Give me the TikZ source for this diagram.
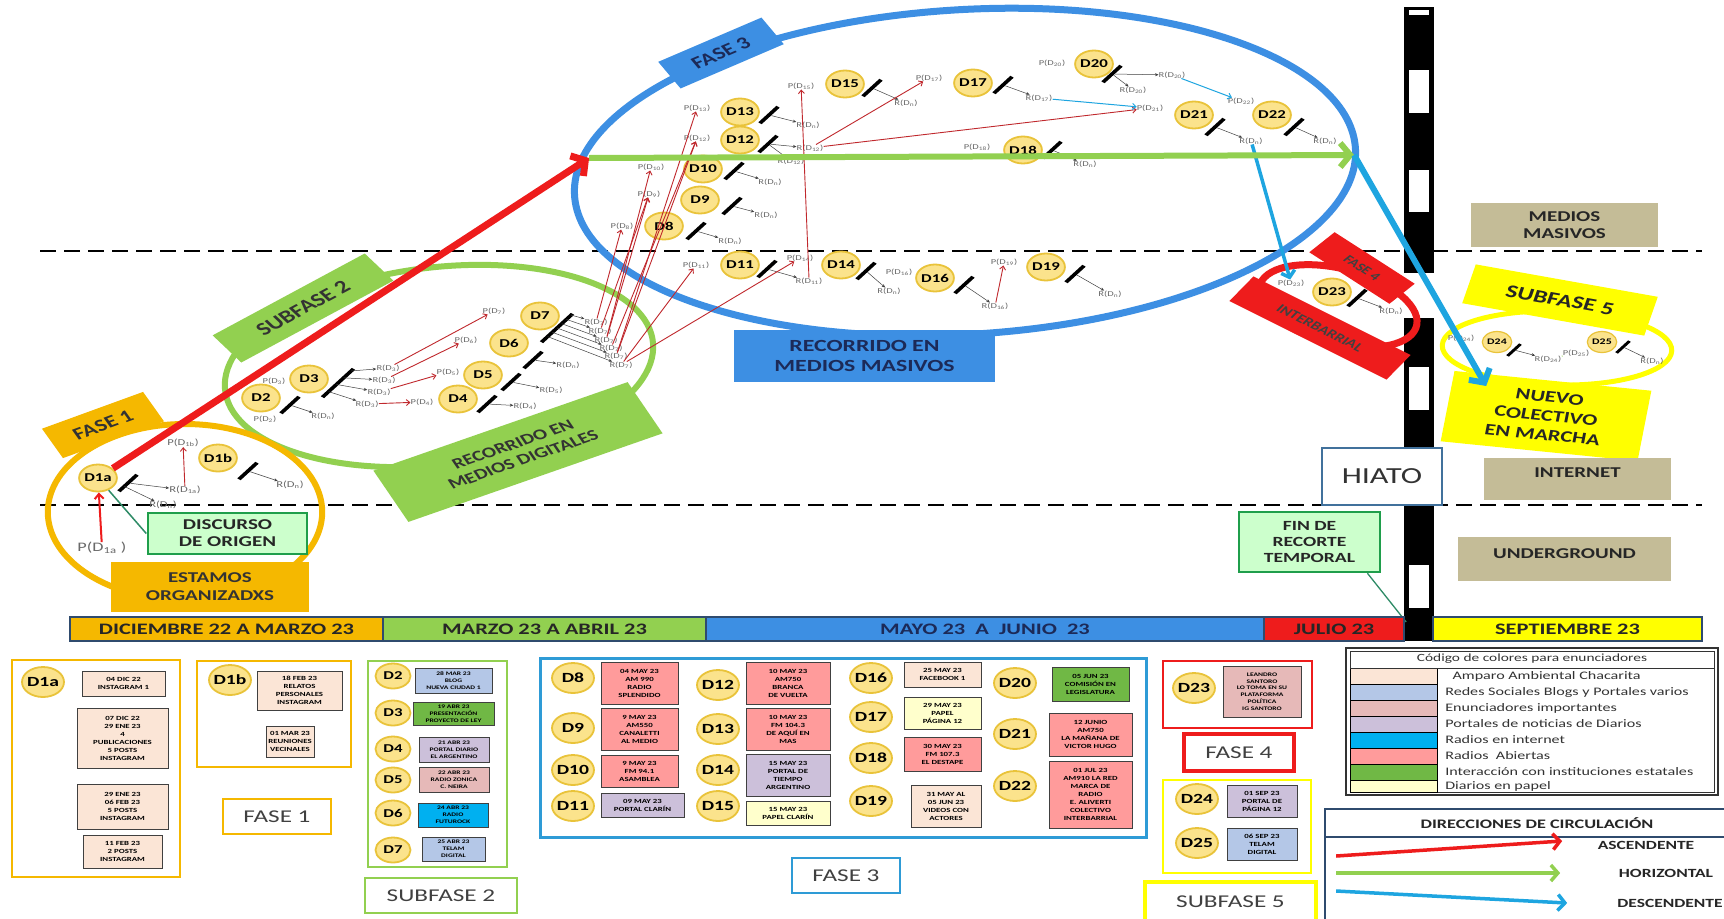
\documentclass[tikz,border=0pt]{standalone}
\usepackage{fontspec}
\setmainfont{Carlito}
\usetikzlibrary{arrows.meta,calc}
\definecolor{corange}{HTML}{F5B800}
\definecolor{cgreen}{HTML}{92D050}
\definecolor{cblue}{HTML}{3D8FE3}
\definecolor{cblue2}{HTML}{2E9BD6}
\definecolor{cred}{HTML}{EE1C1C}
\definecolor{cthin}{HTML}{C0282D}
\definecolor{ccyan}{HTML}{1EA5E0}
\definecolor{ctan}{HTML}{C4BC97}
\definecolor{cnavy}{HTML}{1C2A58}
\definecolor{cdfill}{HTML}{FBE38C}
\definecolor{cdring}{HTML}{E9C33A}
\definecolor{cmint}{HTML}{CCFFCC}
\definecolor{cmintdraw}{HTML}{1F9E4B}
\definecolor{cteal}{HTML}{2E8B66}
\definecolor{csteel}{HTML}{41719C}
\definecolor{cframe}{HTML}{2F4B6E}
\definecolor{cyell}{HTML}{FFFF00}
\definecolor{cgraytxt}{HTML}{6A6A6A}
\definecolor{cpeach}{HTML}{FBE5D6}
\definecolor{cblog}{HTML}{B4C7E7}
\definecolor{cimp}{HTML}{E6B9B8}
\definecolor{cportal}{HTML}{CCC0DA}
\definecolor{cradint}{HTML}{00B0F0}
\definecolor{crad}{HTML}{FF9B9B}
\definecolor{cinst}{HTML}{70B845}
\definecolor{cpaper}{HTML}{FFFFCC}
\newcommand{\fsz}[2]{\fontsize{#1}{#2}\selectfont}
\newcommand{\rbox}[6][]{\node[#1,minimum width={(#5-#3)*1pt/1.4},minimum height={(#6-#4)*1pt}] (#2) at ({(#3+#5)/2},{(#4+#6)/2})}
\tikzset{dnode/.style={circle,draw=cdring,fill=cdfill,line width=1.8pt,inner sep=0pt,minimum size=27pt,font=\bfseries\fsz{12}{12}}}
\tikzset{dbig/.style={dnode,minimum size=30pt,font=\bfseries\fsz{14}{14}}}
\tikzset{dmid/.style={dnode,minimum size=25pt,font=\bfseries\fsz{12}{12}}}
\tikzset{dsmall/.style={dnode,minimum size=21pt,line width=1.2pt,font=\bfseries\fsz{8.5}{9}}}
\tikzset{plab/.style={text=cgraytxt,inner sep=0pt,font=\fsz{7.5}{7.5}}}
\tikzset{ebar/.style={fill=black,inner sep=0pt,minimum width=3pt,minimum height=21pt,rotate=-38}}
\tikzset{barr/.style={-{Stealth[length=3.5pt,width=3pt]},black!75,line width=0.5pt}}
\tikzset{rarr/.style={-{Straight Barb[length=3.5pt,width=6pt]},cthin,line width=0.9pt}}
\tikzset{carr/.style={-{Straight Barb[length=3.5pt,width=6pt]},ccyan,line width=1pt}}
\tikzset{bigarr/.style={-{Straight Barb[length=10pt,width=24pt]},line width=6pt}}
\tikzset{ring/.style={line width=6pt}}
\tikzset{etab/.style={inner sep=0pt,align=center,font=\bfseries\fsz{16}{17}}}
\tikzset{ebox/.style={draw=black!75,line width=1pt,inner sep=0pt,align=center,font=\bfseries\fsz{6.3}{8}}}
\tikzset{sbox/.style={ebox,font=\bfseries\fsz{5.4}{6.8}}}
\tikzset{phaselab/.style={fill=white,line width=2.5pt,inner sep=0pt,font=\fsz{18}{18},text=black!75}}
\tikzset{catbox/.style={fill=ctan,inner sep=0pt,align=center,font=\bfseries\fsz{15}{17},text=black!85}}
\tikzset{tline/.style={draw=cframe,line width=1.6pt,inner sep=0pt,font=\bfseries\fsz{16}{16}}}
\tikzset{legtxt/.style={anchor=west,inner sep=0pt,font=\fsz{11.5}{11.5},text=black!80}}
\tikzset{dirtxt/.style={inner sep=0pt,font=\bfseries\fsz{12.5}{13},text=black!85}}
\begin{document}
\begin{tikzpicture}[x=0.714286pt,y=-1pt,xscale=1.4,every node/.append style={transform shape}]
\fill[white] (0,0) rectangle (1724,918);
\useasboundingbox (0,0) rectangle (1724,918);

% levels and hiato strip
\foreach \yy in {251,505}
  \draw[dash pattern=on 16pt off 8pt,line width=2pt] (40,\yy) -- (1702,\yy);
\fill (1404,7) rectangle (1434,273);
\fill (1404,318) rectangle (1434,641);
\foreach \ya/\yb in {10/15,70/113,170/212,367/410,565/608}
  \fill[white] (1409,\ya) rectangle (1429,\yb);

% phases
\draw[ring,cblue,line width=7pt,rotate around={6:(965,172)}] (965,172) ellipse [x radius=280pt,y radius=162pt];
\draw[ring,cgreen,rotate around={12:(439,366)}] (439,366) ellipse [x radius=155pt,y radius=98pt];
\draw[ring,corange] (185,512) ellipse [x radius=98pt,y radius=88pt];
\draw[ring,cred,line width=7pt,rotate around={-25:(1338,306)}] (1338,306) ellipse [x radius=60pt,y radius=36pt];
\draw[ring,cyell,line width=5pt,rotate around={-2:(1557,348)}] (1557,348) ellipse [x radius=82pt,y radius=37pt];

\node[etab,fill=corange,text=black!80,rotate=27,minimum width=81pt,minimum height=33pt,font=\bfseries\fsz{17}{17}] (f1tab) at (103,425) {FASE 1};
\node[etab,fill=cgreen,text=black!80,rotate=37,minimum width=136pt,minimum height=34pt,font=\bfseries\fsz{18}{18}] (s2tab) at (303,308) {SUBFASE 2};
\node[etab,fill=cblue,text=cnavy,rotate=31,minimum width=86pt,minimum height=31pt,font=\bfseries\fsz{17}{17}] (f3tab) at (721,53) {FASE 3};
\node[etab,fill=cgreen,text=black!80,rotate=26,minimum width=202pt,minimum height=57pt,font=\bfseries\fsz{15}{17}] (mdtab) at (518,452) {RECORRIDO EN\\MEDIOS DIGITALES};
\node[etab,fill=cred,text=black!75,rotate=-42,minimum width=77pt,minimum height=27pt,font=\bfseries\fsz{11.5}{12}] (f4tab) at (1362,268) {FASE 4};
\node[etab,fill=cred,text=black!75,rotate=-35,minimum width=137pt,minimum height=30pt,font=\bfseries\fsz{12}{12}] (ibtab) at (1320,328) {INTERBARRIAL};
\node[etab,fill=cyell,text=black!85,rotate=-14,minimum width=134pt,minimum height=40pt,font=\bfseries\fsz{18}{18}] (s5tab) at (1560,300) {SUBFASE 5};
\node[etab,fill=cyell,text=black!85,rotate=-8,minimum width=142pt,minimum height=71pt,font=\bfseries\fsz{16}{19}] (nuevo) at (1546,416) {NUEVO\\COLECTIVO\\EN MARCHA};

\rbox[fill=cblue,inner sep=0pt,align=center,font=\bfseries\fsz{17}{20},text=cnavy]{mmasivo}{734}{330}{995}{382} {RECORRIDO EN\\MEDIOS MASIVOS};
\rbox[fill=corange,inner sep=0pt,align=center,font=\bfseries\fsz{15}{18},text=black!80]{estamos}{111}{562}{309}{612} {ESTAMOS\\ORGANIZADXS};
\rbox[fill=cmint,draw=cmintdraw,line width=2.5pt,inner sep=0pt,align=center,font=\bfseries\fsz{15}{17},text=black!85]{disc}{148}{513}{307}{554} {DISCURSO\\DE ORIGEN};
\rbox[catbox]{mmas}{1471}{203}{1658}{247} {MEDIOS\\MASIVOS};
\rbox[catbox,text height=11pt,text depth=14pt]{inet}{1484}{458}{1671}{500} {INTERNET};
\rbox[catbox,text height=11pt,text depth=12pt]{under}{1458}{537}{1671}{581} {UNDERGROUND};
\rbox[fill=white,draw=csteel,line width=2.5pt,inner sep=0pt,font=\fsz{23}{23},text=black!80]{hiato}{1322}{448}{1442}{505} {HIATO};
\rbox[fill=cmint,draw=cmintdraw,line width=2.5pt,inner sep=0pt,align=center,font=\bfseries\fsz{14}{16},text=black!85]{fin}{1239}{512}{1380}{572} {FIN DE\\RECORTE\\TEMPORAL};
\coordinate (finend) at (1406,622);
\draw[cteal,line width=1.3pt] ($(fin.south)!0.8!(fin.south east)$) -- (finend);

% discursos
\foreach \nm/\xx/\yy/\lab in {d1a/98/478/D1a,d1b/218/458/D1b,d2/261/398/D2,d3/309/379/D3,d4/458/399/D4,d5/483/375/D5,d6/509/343/D6,d7/540/316/D7,d8/664/226/D8,d9/700/200/D9,d10/703/169/D10,d11/740/265/D11,d12/740/140/D12,d13/740/112/D13,d14/841/265/D14,d15/845/84/D15,d16/935/278/D16,d17/973/83/D17,d18/1023/150/D18,d19/1046/267/D19,d20/1094/64/D20,d21/1194/115/D21,d22/1272/115/D22,d23/1332/292/D23}
  \node[dnode] (\nm) at (\xx,\yy) {\lab};
\node[dsmall] (d24) at (1497,342) {D24};
\node[dsmall] (d25) at (1602,342) {D25};

\foreach \nm/\xx/\yy in {k1a/128/483,k1b/248/471,k2/290/405,k4/487/404,k5/511/382,k6/533/360,k8/696/231,k9/732/206,k10/734/171,k11/767/269,k12/768/144,k13/769/115,k14/866/271,k15/872/88,k16/964/285,k17/1003/85,k18/1052/150,k19/1075/274,k20/1112/74,k21/1215/127,k22/1294/127,k23/1357/298}
  \node[ebar] (\nm) at (\xx,\yy) {};
\node[ebar,minimum height=36pt] (k3) at (338,383) {};
\node[ebar,minimum height=36pt] (k7) at (557,328) {};
\node[ebar,minimum height=15pt,minimum width=2.4pt] (k24) at (1514,350) {};
\node[ebar,minimum height=15pt,minimum width=2.4pt] (k25) at (1623,347) {};

\node[plab,font=\fsz{13}{13}] (pd1a) at (102,548) {P(D\textsubscript{1a} )};
\foreach \nm/\xx/\yy/\lab in {pd1b/183/443/1b}
  \node[plab,font=\fsz{9}{9}] (\nm) at (\xx,\yy) {P(D\textsubscript{\lab})};
\foreach \nm/\xx/\yy/\lab in {rd1a/185/490/1a,rdn1a/163/505/n,rdn1b/290/485/n}
  \node[plab,font=\fsz{9}{9}] (\nm) at (\xx,\yy) {R(D\textsubscript{\lab})};
\foreach \nm/\xx/\yy/\lab in {pd2/265/419/2,pd3/274/381/3,pd4/422/402/4,pd5/448/372/5,pd6/466/340/6,pd7/494/311/7,pd8/622/226/8,pd9/649/194/9,pd10/651/167/10,pd11/696/265/11,pd12/697/138/12,pd13/697/108/13,pd14/800/258/14,pd15/801/86/15,pd16/899/272/16,pd17/929/78/17,pd18/977/147/18,pd19/1004/262/19,pd20/1052/63/20,pd21/1150/108/21,pd22/1241/101/22,pd23/1291/283/23,pd24/1461/338/24,pd25/1576/353/25}
  \node[plab] (\nm) at (\xx,\yy) {P(D\textsubscript{\lab})};
\foreach \nm/\xx/\yy/\lab in {rdn2/323/416/n,rd3a/388/368/3,rd3b/384/380/3,rd3c/379/392/3,rd3d/367/404/3,rd4/525/406/4,rd5/551/390/5,rdn6/568/365/n,r7a/596/322/7,r7b/600/331/7,r7c/606/340/7,r7d/611/348/7,r7e/616/356/7,r7f/621/365/7,rdn8/730/241/n,rdn9/766/215/n,rdn10/770/182/n,rd11/809/281/11,rd12a/810/148/12,rd12b/791/161/12,rdn13/808/125/n,rdn14/889/291/n,rdn15/906/103/n,rd16/995/306/16,rd17/1039/98/17,rdn18/1085/164/n,rdn19/1110/294/n,rd20a/1133/90/20,rd20b/1172/75/20,rdn21/1251/141/n,rdn22/1325/141/n,rdn23/1391/311/n,rd24/1548/359/24,rdn25/1652/361/n}
  \node[plab] (\nm) at (\xx,\yy) {R(D\textsubscript{\lab})};

\foreach \a/\b in {k1a/rd1a,k1b/rdn1b,k2/rdn2,k4/rd4,k5/rd5,k6/rdn6,k8/rdn8,k9/rdn9,k10/rdn10,k11/rd11,k12/rd12a,k12/rd12b,k13/rdn13,k14/rdn14,k15/rdn15,k16/rd16,k17/rd17,k18/rdn18,k19/rdn19,k20/rd20a,k20/rd20b,k21/rdn21,k22/rdn22,k23/rdn23,k24/rd24,k25/rdn25}
  \draw[barr] (\a) -- (\b);
\draw[barr] ($(k1a.south)!0.3!(k1a.north)$) -- (rdn1a);
\foreach \r/\f in {rd3a/0.92,rd3b/0.68,rd3c/0.45,rd3d/0.2}
  \draw[barr] ($(k3.south)!\f!(k3.north)$) -- (\r);
\foreach \r/\f in {r7a/0.95,r7b/0.8,r7c/0.65,r7d/0.5,r7e/0.35,r7f/0.2}
  \draw[barr] ($(k7.south)!\f!(k7.north)$) -- (\r);

\foreach \a/\b in {rd1a/pd1b,rd3a/pd7,rd3b/pd6,rd3c/pd5,rd3d/pd4,r7a/pd8,r7b/pd9,r7c/pd9,r7c/pd10,r7d/pd12,r7e/pd12,r7e/pd13,r7f/pd11,r7f/pd14,rd11/pd15,rd12a/pd17,rd12a/pd21,rd16/pd19}
  \draw[rarr] (\a) -- (\b);
\draw[rarr,cred,line width=2pt,-{Straight Barb[length=5pt,width=9pt]}] (pd1a) -- (d1a);
\draw[cteal,line width=1.5pt] (d1a) -- (disc.west);
\draw[carr] (rd17) -- (pd21);
\draw[carr] (rd20b) -- (pd22);
\draw[cgreen,line width=0.8pt] (rd24) -- (pd25);
\draw[ccyan,line width=3.5pt,-{Straight Barb[length=6pt,width=14pt]}] (rdn21) -- (pd23);

% circulacion
\coordinate (etip) at (589,158);
\coordinate (eend) at (1354,155);
\coordinate (ntip) at (1486,386);
\draw[bigarr,cred,line width=7pt] (d1a) -- (etip);
\draw[bigarr,cgreen] (etip) -- (eend);
\draw[bigarr,ccyan] (eend) -- (ntip);

% linea de tiempo
\rbox[tline,fill=corange,text=black!85]{tdic}{70}{617}{383}{641} {DICIEMBRE 22 A MARZO 23};
\rbox[tline,fill=cgreen,text=black!85]{tmar}{383}{617}{706}{641} {MARZO 23 A ABRIL 23};
\rbox[tline,fill=cblue,text=cnavy]{tmay}{706}{617}{1264}{641} {MAYO 23\ \ A\ \ JUNIO\ \ 23};
\rbox[tline,fill=cred,text=black!85]{tjul}{1264}{617}{1404}{641} {JULIO 23};
\rbox[tline,fill=cyell,text=black!85]{tsep}{1433}{617}{1702}{641} {SEPTIEMBRE 23};

% enunciadores
\draw[corange,line width=2.5pt] (12,660) rectangle (180,877);
\draw[corange,line width=2.5pt] (197,661) rectangle (351,767);
\draw[cgreen,line width=2.5pt] (368,661) rectangle (507,867);
\draw[cblue2,line width=3pt] (540,658) rectangle (1146,837);
\draw[cred,line width=2.5pt] (1163,661) rectangle (1312,728);
\draw[cyell,line width=2.5pt] (1163,780) rectangle (1311,873);

\foreach \nm/\xx/\yy/\lab in {c1a/43/682/D1a,c1b/230/680/D1b,c8/573/678/D8,c9/573/728/D9,c10/573/770/D10,c11/573/806/D11,c12/718/685/D12,c13/718/729/D13,c14/718/770/D14,c15/718/806/D15,c16/871/678/D16,c17/871/717/D17,c18/871/758/D18,c19/871/801/D19,c20/1015/683/D20,c21/1015/734/D21,c22/1015/786/D22,c23/1194/688/D23,c24/1197/799/D24,c25/1197/843/D25}
  \node[dbig] (\nm) at (\xx,\yy) {\lab};
\foreach \nm/\yy/\lab in {c2/676/D2,c3/713/D3,c4/749/D4,c5/780/D5,c6/813/D6,c7/850/D7}
  \node[dmid] (\nm) at (393,\yy) {\lab};

\foreach \nm/\xa/\ya/\xb/\yb/\cl/\lab in {b1/82/671/165/696/cpeach/{04 DIC 22\\INSTAGRAM 1},b2/77/708/168/768/cpeach/{07 DIC 22\\29 ENE 23\\4\\PUBLICACIONES\\5 POSTS\\INSTAGRAM},b3/77/784/168/829/cpeach/{29 ENE 23\\06 FEB 23\\5 POSTS\\INSTAGRAM},b4/83/835/162/868/cpeach/{11 FEB 23\\2 POSTS\\INSTAGRAM},b5/257/671/342/710/cpeach/{18 FEB 23\\RELATOS\\PERSONALES\\INSTAGRAM},b6/266/726/314/757/cpeach/{01 MAR 23\\REUNIONES\\VECINALES},b13/601/662/678/704/crad/{04 MAY 23\\AM 990\\RADIO\\SPLENDIDO},b14/601/708/678/750/crad/{9 MAY 23\\AM550\\CANALETTI\\AL MEDIO},b15/601/755/678/787/crad/{9 MAY 23\\FM 94.1\\ASAMBLEA},b16/601/793/684/817/cportal/{09 MAY 23\\PORTAL CLARÍN},b17/746/662/830/704/crad/{10 MAY 23\\AM750\\BRANCA\\DE VUELTA},b18/746/708/830/750/crad/{10 MAY 23\\FM 104.3\\DE AQUÍ EN\\MAS},b19/746/754/830/796/cportal/{15 MAY 23\\PORTAL DE\\TIEMPO\\ARGENTINO},b20/746/801/830/825/cpaper/{15 MAY 23\\PAPEL CLARÍN},b21/904/662/981/687/cpeach/{25 MAY 23\\FACEBOOK 1},b22/904/697/981/729/cpaper/{29 MAY 23\\PAPEL\\PÁGINA 12},b23/904/737/981/771/crad/{30 MAY 23\\FM 107.3\\EL DESTAPE},b24/911/785/981/827/cpeach/{31 MAY AL\\05 JUN 23\\VIDEOS CON\\ACTORES},b25/1052/667/1129/701/cinst/{05 JUN 23\\COMISIÓN EN\\LEGISLATURA},b26/1049/713/1132/756/crad/{12 JUNIO\\AM750\\LA MAÑANA DE\\VICTOR HUGO},b27/1049/761/1132/828/crad/{01 JUL 23\\AM910 LA RED\\MARCA DE\\RADIO\\E. ALIVERTI\\COLECTIVO\\INTERBARRIAL},b29/1227/785/1297/817/cportal/{01 SEP 23\\PORTAL DE\\PÁGINA 12},b30/1227/828/1297/860/cblog/{06 SEP 23\\TELAM\\DIGITAL}}
  \rbox[ebox,fill=\cl]{\nm}{\xa}{\ya}{\xb}{\yb} {\lab};
\foreach \nm/\xa/\ya/\xb/\yb/\cl/\lab in {b7/415/668/492/693/cblog/{28 MAR 23\\BLOG\\NUEVA CIUDAD 1},b8/413/702/494/725/cinst/{19 ABR 23\\PRESENTACIÓN\\PROYECTO DE LEY},b9/419/737/489/762/cportal/{21 ABR 23\\PORTAL DIARIO\\EL ARGENTINO},b10/419/767/489/792/cimp/{22 ABR 23\\RADIO ZONICA\\C. NEIRA},b11/418/803/488/827/cradint/{24 ABR 23\\RADIO\\FUTUROCK},b12/422/837/485/861/cblog/{25 ABR 23\\TELAM\\DIGITAL},b28/1223/666/1301/717/cimp/{LEANDRO\\SANTORO\\LO TOMA EN SU\\PLATAFORMA\\POLÍTICA\\IG SANTORO}}
  \rbox[sbox,fill=\cl]{\nm}{\xa}{\ya}{\xb}{\yb} {\lab};

\rbox[phaselab,draw=corange]{lf1}{223}{799}{331}{834} {FASE 1};
\rbox[phaselab,draw=cgreen]{ls2}{365}{878}{517}{913} {SUBFASE 2};
\rbox[phaselab,draw=cblue2]{lf3}{792}{858}{900}{893} {FASE 3};
\rbox[phaselab,draw=cred,line width=3.5pt]{lf4}{1184}{734}{1294}{771} {FASE 4};
\rbox[phaselab,draw=cyell,line width=3.5pt]{ls5}{1145}{882}{1316}{922} {SUBFASE 5};

% codigo de colores
\draw[black!80,line width=2.5pt] (1346,648) rectangle (1718,795);
\draw[black!80,line width=1pt] (1350,651) rectangle (1714,792);
\node[font=\fsz{11}{11},text=black!80,inner sep=0pt] (legt) at (1532,659) {Código de colores para enunciadores};
\foreach \cl/\ya/\yb/\lab in {cpeach/668/684/{\ \ Amparo Ambiental Chacarita},cblog/684/700/{Redes Sociales Blogs y Portales varios},cimp/700/716/{Enunciadores importantes},cportal/716/732/{Portales de noticias de Diarios},cradint/732/748/{Radios en internet},crad/748/764/{Radios\ \ Abiertas},cinst/764/780/{Interacción con instituciones estatales},cpaper/780/792/{Diarios en papel}}{
  \draw[fill=\cl,line width=0.8pt] (1350,\ya) rectangle (1437,\yb);
  \node[legtxt] (lg\ya) at (1445,{(\ya+\yb)/2}) {\lab};
}
\draw[black!80,line width=1pt] (1350,668) -- (1714,668);

% direcciones
\draw[cframe,line width=2.5pt] (1325,809) rectangle (1728,922);
\draw[cframe,line width=1.2pt] (1325,837) -- (1728,837);
\node[dirtxt,font=\bfseries\fsz{13}{13}] (dirt) at (1537,823) {DIRECCIONES DE CIRCULACIÓN};
\coordinate (as1) at (1336,856); \coordinate (as2) at (1562,841);
\coordinate (ho1) at (1336,873); \coordinate (ho2) at (1560,873);
\coordinate (de1) at (1336,891); \coordinate (de2) at (1567,903);
\draw[cred,line width=3.5pt,-{Straight Barb[length=7pt,width=16pt]}] (as1) -- (as2);
\draw[cgreen,line width=3.5pt,-{Straight Barb[length=7pt,width=16pt]}] (ho1) -- (ho2);
\draw[ccyan,line width=3.5pt,-{Straight Barb[length=7pt,width=16pt]}] (de1) -- (de2);
\node[dirtxt] (lasc) at (1646,845) {ASCENDENTE};
\node[dirtxt] (lhor) at (1666,873) {HORIZONTAL};
\node[dirtxt] (ldes) at (1670,903) {DESCENDENTE};
\end{tikzpicture}
\end{document}
